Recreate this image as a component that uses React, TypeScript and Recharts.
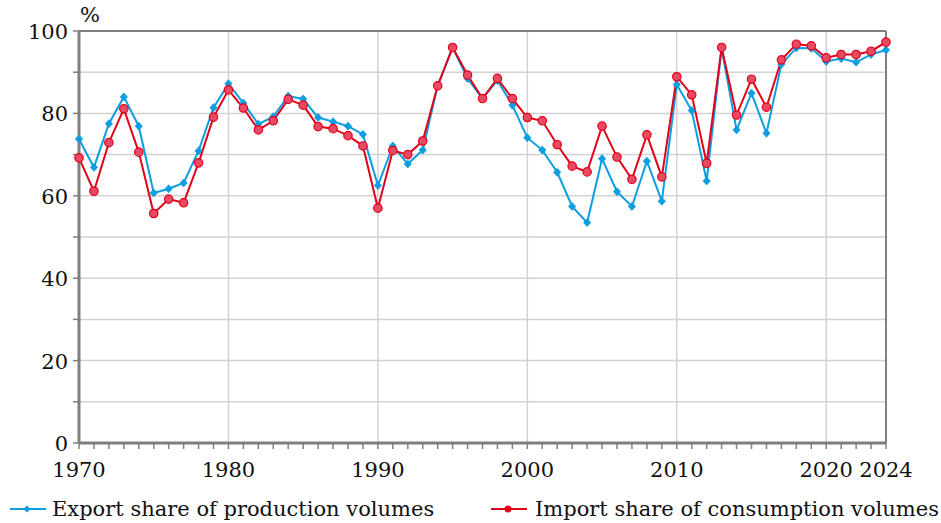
import React from 'react';
import { LineChart, Line, XAxis, YAxis, CartesianGrid, ReferenceLine } from 'recharts';

const years = [
  1970, 1971, 1972, 1973, 1974, 1975, 1976, 1977, 1978, 1979,
  1980, 1981, 1982, 1983, 1984, 1985, 1986, 1987, 1988, 1989,
  1990, 1991, 1992, 1993, 1994, 1995, 1996, 1997, 1998, 1999,
  2000, 2001, 2002, 2003, 2004, 2005, 2006, 2007, 2008, 2009,
  2010, 2011, 2012, 2013, 2014, 2015, 2016, 2017, 2018, 2019,
  2020, 2021, 2022, 2023, 2024,
];

const exportShare = [
  73.8, 66.9, 77.5, 84.0, 76.9, 60.7, 61.7, 63.1, 70.9, 81.4,
  87.2, 82.5, 77.4, 79.2, 84.2, 83.5, 79.0, 78.0, 76.9, 74.9,
  62.5, 72.1, 67.7, 71.1, 86.7, 96.0, 88.5, 83.6, 88.0, 82.0,
  74.1, 71.1, 65.7, 57.4, 53.5, 69.0, 61.0, 57.4, 68.4, 58.7,
  87.0, 80.7, 63.6, 95.8, 76.0, 84.9, 75.2, 91.9, 95.9, 95.8,
  92.6, 93.3, 92.4, 94.3, 95.4,
];

const importShare = [
  69.2, 61.1, 72.9, 81.1, 70.6, 55.7, 59.2, 58.3, 68.0, 79.1,
  85.7, 81.3, 76.0, 78.2, 83.4, 82.0, 76.8, 76.3, 74.6, 72.1,
  57.0, 71.0, 70.0, 73.3, 86.7, 96.0, 89.3, 83.6, 88.5, 83.6,
  79.0, 78.2, 72.4, 67.2, 65.8, 76.9, 69.4, 64.0, 74.8, 64.6,
  88.9, 84.5, 67.9, 96.0, 79.6, 88.3, 81.5, 93.0, 96.8, 96.4,
  93.5, 94.3, 94.3, 95.1, 97.3,
];

const xLabelYears = [1970, 1980, 1990, 2000, 2010, 2020, 2024];
const decadeLines = [1980, 1990, 2000, 2010, 2020];
const yTicks = [0, 10, 20, 30, 40, 50, 60, 70, 80, 90, 100];
const yLabelValues = [0, 20, 40, 60, 80, 100];

const seriesNames = ['Export share of production volumes', 'Import share of consumption volumes'];

const data = years.map((y, i) => ({ year: y, exp: exportShare[i], imp: importShare[i] }));

const BLUE = '#0b9ee0';
const RED = '#e2001a';
const RED_FILL = '#e84a63';
const AXIS = '#7f7f7f';
const GRID = '#d2d2d2';
const FONT = '"DejaVu Serif", serif';

const Diamond = (props: any) => {
  const { cx, cy } = props;
  if (cx == null || cy == null) return null;
  const w = 3.6;
  const h = 4;
  return (
    <polygon
      points={`${cx},${cy - h} ${cx + w},${cy} ${cx},${cy + h} ${cx - w},${cy}`}
      fill={BLUE}
      stroke={BLUE}
      strokeWidth={0.8}
    />
  );
};

const Circle = (props: any) => {
  const { cx, cy } = props;
  if (cx == null || cy == null) return null;
  return <circle cx={cx} cy={cy} r={4.2} fill={RED_FILL} stroke={RED} strokeWidth={1.2} />;
};

const XTick = (props: any) => {
  const { x, y, payload } = props;
  if (!xLabelYears.includes(payload.value)) return <g />;
  return (
    <text x={x} y={y + 26} textAnchor="middle" fontFamily={FONT} fontSize={21} fill="#111">
      {payload.value}
    </text>
  );
};

const YTick = (props: any) => {
  const { x, y, payload } = props;
  if (!yLabelValues.includes(payload.value)) return <g />;
  return (
    <text x={x} y={y + 8} textAnchor="end" fontFamily={FONT} fontSize={21} fill="#111">
      {payload.value}
    </text>
  );
};

export default function App() {
  return (
    <div style={{ position: 'absolute', left: 0, top: 0, width: 941, height: 523, background: '#fff' }}>
      <LineChart
        width={941}
        height={523}
        data={data}
        margin={{ top: 31, right: 55, left: 0, bottom: 40 }}
      >
        <CartesianGrid vertical={false} stroke={GRID} strokeWidth={1.5} />
        {decadeLines.map((d) => (
          <ReferenceLine key={d} x={d} stroke={GRID} strokeWidth={1.5} />
        ))}
        <ReferenceLine y={100} stroke={AXIS} strokeWidth={2} />
        <ReferenceLine x={2024} stroke={AXIS} strokeWidth={2} />
        <XAxis
          dataKey="year"
          type="number"
          domain={[1970, 2024]}
          ticks={years}
          interval={0}
          tick={<XTick />}
          tickSize={6}
          tickMargin={2}
          tickLine={{ stroke: AXIS, strokeWidth: 1.5 }}
          axisLine={{ stroke: AXIS, strokeWidth: 3 }}
          height={40}
        />
        <YAxis
          type="number"
          domain={[0, 100]}
          ticks={yTicks}
          interval={0}
          tick={<YTick />}
          tickSize={6}
          tickMargin={5}
          tickLine={{ stroke: AXIS, strokeWidth: 1.5 }}
          axisLine={{ stroke: AXIS, strokeWidth: 3 }}
          width={79}
        />
        <Line
          type="linear"
          dataKey="exp"
          name={seriesNames[0]}
          stroke={BLUE}
          strokeWidth={2}
          dot={<Diamond />}
          activeDot={false}
          isAnimationActive={false}
        />
        <Line
          type="linear"
          dataKey="imp"
          name={seriesNames[1]}
          stroke={RED}
          strokeWidth={2}
          dot={<Circle />}
          activeDot={false}
          isAnimationActive={false}
        />
      </LineChart>
      <div
        style={{
          position: 'absolute',
          left: 80,
          top: 2,
          fontFamily: FONT,
          fontSize: 21,
          color: '#111',
          lineHeight: '26px',
        }}
      >
        %
      </div>
      <div style={{ position: 'absolute', left: 10, top: 495, height: 28, display: 'flex', alignItems: 'center' }}>
        <svg width={36} height={12} style={{ display: 'block' }}>
          <line x1={0} y1={6} x2={36} y2={6} stroke={BLUE} strokeWidth={2} />
          <polygon points="17,2.5 20.5,6 17,9.5 13.5,6" fill={BLUE} />
        </svg>
        <span style={{ marginLeft: 6, fontFamily: FONT, fontSize: 21, color: '#111', whiteSpace: 'nowrap' }}>
          {seriesNames[0]}
        </span>
      </div>
      <div style={{ position: 'absolute', left: 491, top: 495, height: 28, display: 'flex', alignItems: 'center' }}>
        <svg width={36} height={12} style={{ display: 'block' }}>
          <line x1={0} y1={6} x2={36} y2={6} stroke={RED} strokeWidth={2} />
          <circle cx={17} cy={6} r={3.5} fill={RED} />
        </svg>
        <span style={{ marginLeft: 8, fontFamily: FONT, fontSize: 21, color: '#111', whiteSpace: 'nowrap' }}>
          {seriesNames[1]}
        </span>
      </div>
    </div>
  );
}
